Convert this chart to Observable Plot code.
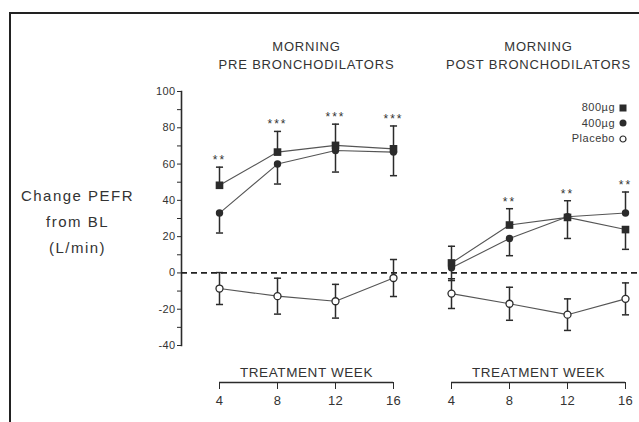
<!DOCTYPE html>
<html><head><meta charset="utf-8">
<script src="https://cdn.jsdelivr.net/npm/d3@7"></script>
<script src="https://cdn.jsdelivr.net/npm/@observablehq/plot@0.6"></script>
<style>
html,body{margin:0;padding:0;background:#fff;overflow:hidden;}
#wrap{position:relative;width:639px;height:422px;overflow:hidden;font-family:"Liberation Sans",Arial,sans-serif;color:#333;}
#border{position:absolute;left:9px;top:12px;width:1000px;height:1000px;border-left:2px solid #222;border-top:2px solid #222;}
#chart{position:absolute;left:0;top:0;}
#legend{position:absolute;right:12px;top:100px;font-size:11px;letter-spacing:0.5px;line-height:15.5px;text-align:right;color:#3a3a3a;}
#legend div{display:flex;justify-content:flex-end;align-items:center;gap:4px;}
#legend svg{display:block;}
g[aria-label="y-axis tick label"] text{letter-spacing:0.4px;}
g[aria-label="x-axis tick label"] text{letter-spacing:0.4px;}
</style></head><body>
<div id="wrap"><div id="border"></div><div id="chart"></div><div id="legend"></div></div>
<script>
const weeks = [4, 8, 12, 16];
const panelTitles = ["MORNING\nPRE BRONCHODILATORS", "MORNING\nPOST BRONCHODILATORS"];
const axisTitle = "TREATMENT WEEK";
const yLabel = "Change PEFR\nfrom BL\n(L/min)";
const seriesNames = ["800µg", "400µg", "Placebo"];
const yTicks = [-40, -30, -20, -10, 0, 10, 20, 30, 40, 50, 60, 70, 80, 90, 100];

// Morning pre bronchodilators
const pre800 = [48.3, 66.6, 70.3, 68.4];
const pre800Err = [10, 11.4, 11.7, 12.6];        // one-sided (sign = direction)
const pre400 = [33, 60, 67.5, 66.6];
const pre400Err = [-11, -11, -11.9, -13];
const prePlacebo = [-8.6, -12.8, -15.6, -2.8];
const prePlaceboErr = [8.8, 9.9, 9.3, 10.2];     // two-sided
const preStars = ["**", "***", "***", "***"];

// Morning post bronchodilators
const post800 = [5.5, 26.4, 30.6, 23.9];
const post800Err = [9.2, 9, 9.2, -10.9];
const post400 = [2.8, 19, 31, 33];
const post400Err = [-7, -9.5, -12, 11.6];
const postPlacebo = [-11.4, -17, -23, -14.3];
const postPlaceboErr = [8.2, 9.1, 8.7, 8.8];
const postStars = ["", "**", "**", "**"];

const panelData = [
  {values: [pre800, pre400, prePlacebo], errs: [pre800Err, pre400Err, prePlaceboErr], stars: preStars},
  {values: [post800, post400, postPlacebo], errs: [post800Err, post400Err, postPlaceboErr], stars: postStars}
];

// both panels share one x scale; the second panel continues after the first
const span = weeks[weeks.length - 1];
const panels = panelTitles.map((title, i) => ({
  title, first: weeks[0] + i * span, last: weeks[weeks.length - 1] + i * span, mid: d3.mean(weeks) + i * span
}));
const xTicks = [], weekLabel = new Map();
panels.forEach((p, i) => weeks.forEach(w => { xTicks.push(w + i * span); weekLabel.set(w + i * span, w); }));

const rows = [];
const starRows = [];
panelData.forEach((p, pi) => {
  seriesNames.forEach((name, si) => weeks.forEach((w, wi) => {
    const v = p.values[si][wi], e = p.errs[si][wi];
    const twoSided = si === 2;
    rows.push({series: name, si, key: name + pi, x: w + pi * span, value: v,
      y1: twoSided ? v - e : v, y2: v + e, twoSided});
  }));
  weeks.forEach((w, wi) => {
    const x = w + pi * span;
    const top = d3.max(rows.filter(r => r.x === x && r.si < 2), r => Math.max(r.y1, r.y2));
    starRows.push({x, top, label: p.stars[wi]});
  });
});

const capSymbol = {draw(ctx, size) { const h = Math.sqrt(size) / 2; ctx.moveTo(-h, 0); ctx.lineTo(h, 0); }};
const ink = "#2b2b2b";

const chart = Plot.plot({
  width: 639, height: 422,
  marginLeft: 181, marginRight: 0, marginTop: 91, marginBottom: 77,
  x: {domain: [weeks[0], weeks[weeks.length - 1] + span], insetLeft: 38, insetRight: 14},
  y: {domain: [yTicks[0], yTicks[yTicks.length - 1]]},
  style: {fontFamily: "'Liberation Sans', Arial, sans-serif", color: "#333", background: "transparent", overflow: "visible"},
  marks: [
    Plot.frame({anchor: "left", stroke: ink, strokeWidth: 1.6}),
    Plot.axisY({ticks: yTicks, tickSize: 4, tickPadding: 2, tickFormat: d => d % 20 === 0 ? d : "", fontSize: 11, label: null, stroke: ink, fill: "#333"}),
    Plot.text([yLabel], {text: d => d, frameAnchor: "left", dx: -104, fontSize: 15, lineHeight: 1.75, fill: "#333", textAnchor: "middle"}),
    Plot.ruleY([0], {stroke: "#222", strokeWidth: 1.8, strokeDasharray: "6,4"}),
    Plot.text(panels, {x: "mid", text: "title", frameAnchor: "top", lineAnchor: "middle", dy: -37, lineHeight: 1.4, fontSize: 13, fill: "#333"}),
    Plot.ruleY(panels, {x1: "first", x2: "last", y: () => yTicks[0], dy: 37, stroke: ink, strokeWidth: 1.4}),
    Plot.axisX({ticks: xTicks, tickFormat: d => weekLabel.get(d), tickSize: 7, tickPadding: 6, dy: 37, fontSize: 13, label: null, stroke: ink, fill: "#333"}),
    Plot.text(panels, {x: "mid", text: () => axisTitle, frameAnchor: "bottom", lineAnchor: "middle", dy: 27, fontSize: 13.5, fill: "#333"}),
    Plot.line(rows, {x: "x", y: "value", z: "key", stroke: "#555", strokeWidth: 1.1}),
    Plot.ruleX(rows, {x: "x", y1: "y1", y2: "y2", stroke: ink, strokeWidth: 1.5}),
    Plot.dot(rows, {x: "x", y: "y2", symbol: capSymbol, r: 4, stroke: ink, strokeWidth: 1.5}),
    Plot.dot(rows.filter(r => r.twoSided), {x: "x", y: "y1", symbol: capSymbol, r: 4, stroke: ink, strokeWidth: 1.5}),
    Plot.dot(rows.filter(r => r.si === 0), {x: "x", y: "value", symbol: "square", r: 4.3, fill: ink, stroke: "none"}),
    Plot.dot(rows.filter(r => r.si === 1), {x: "x", y: "value", symbol: "circle", r: 3.7, fill: ink, stroke: "none"}),
    Plot.dot(rows.filter(r => r.si === 2), {x: "x", y: "value", symbol: "circle", r: 3.5, fill: "white", stroke: ink, strokeWidth: 1.3}),
    Plot.text(starRows.filter(d => d.label), {x: "x", y: "top", text: "label", dy: -7, fontSize: 12, fill: "#333"})
  ]
});
document.getElementById("chart").appendChild(chart);

// letter spacing for the plain text marks, in mark order: y title, panel titles, week titles, stars
const spacing = ["1.5px", "0.8px", "0.6px", "2px"];
chart.querySelectorAll('g[aria-label="text"]').forEach((g, i) => {
  if (spacing[i]) g.style.letterSpacing = spacing[i];
});

// legend
const legendMarks = [
  `<svg width="8" height="8"><rect x="0.5" y="0.5" width="7" height="7" fill="${ink}"/></svg>`,
  `<svg width="8" height="8"><circle cx="4" cy="4" r="3.5" fill="${ink}"/></svg>`,
  `<svg width="8" height="8"><circle cx="4" cy="4" r="3" fill="white" stroke="${ink}" stroke-width="1.2"/></svg>`
];
document.getElementById("legend").innerHTML = seriesNames.map((n, i) => `<div><span>${n}</span>${legendMarks[i]}</div>`).join("");
</script>
</body></html>
